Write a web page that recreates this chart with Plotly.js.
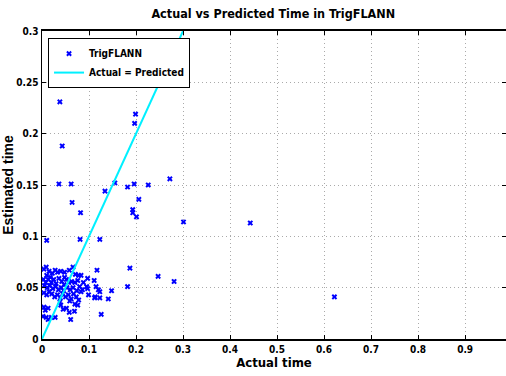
<!DOCTYPE html>
<html>
<head>
<meta charset="utf-8">
<script src="https://cdn.plot.ly/plotly-3.0.1.min.js"></script>
<style>html,body{margin:0;padding:0;background:#fff;}#chart{width:506px;height:376px;}</style>
</head>
<body>
<div id="chart"></div>
<script>
var actualTime = [
  0.004,0.009,0.015,0.022,0.028,0.033,0.040,0.048,0.058,0.066,0.071,0.078,0.010,0.018,
  0.003,0.008,0.013,0.020,0.025,0.030,0.036,0.042,0.047,0.052,0.057,0.063,0.048,0.070,0.076,0.083,
  0.005,0.011,0.017,0.023,0.029,0.035,0.041,0.046,0.053,0.060,0.066,0.074,0.080,0.086,
  0.004,0.010,0.015,0.021,0.027,0.033,0.039,0.044,0.050,0.056,0.062,0.067,0.073,0.083,0.078,
  0.004,0.007,0.013,0.002,0.009,0.020,0.028,0.013,0.040,0.038,0.045,0.052,0.058,0.061,0.069,0.070,0.059,0.076,
  0.097,0.111,0.117,0.095,0.097,0.115,0.120,0.148,0.123,0.099,0.113,0.123,0.141,0.126,0.112,0.088,
  0.038,0.043,0.199,0.197,0.036,0.062,0.064,0.082,0.010,0.081,0.123,0.134,0.155,0.182,0.196,
  0.206,0.193,0.193,0.201,0.226,0.272,0.301,0.443,0.622,0.187,0.247,0.281,0.182
];
var estimatedTime = [
  0.068,0.070,0.066,0.064,0.067,0.065,0.066,0.065,0.067,0.070,0.063,0.062,0.062,0.060,
  0.058,0.055,0.058,0.055,0.058,0.054,0.059,0.056,0.053,0.058,0.055,0.056,0.060,0.055,0.057,0.062,
  0.052,0.050,0.052,0.049,0.051,0.048,0.050,0.047,0.050,0.048,0.050,0.047,0.051,0.048,
  0.045,0.043,0.046,0.044,0.041,0.043,0.040,0.044,0.041,0.043,0.039,0.044,0.041,0.046,0.038,
  0.031,0.028,0.030,0.022,0.021,0.021,0.021,0.019,0.033,0.036,0.029,0.030,0.026,0.019,0.027,0.034,0.037,0.033,
  0.059,0.057,0.067,0.051,0.049,0.051,0.048,0.047,0.046,0.043,0.041,0.040,0.039,0.024,0.040,0.055,
  0.231,0.188,0.219,0.210,0.151,0.151,0.133,0.123,0.096,0.097,0.097,0.144,0.152,0.148,0.151,
  0.136,0.126,0.123,0.119,0.150,0.156,0.114,0.113,0.041,0.069,0.061,0.056,0.051
];
var idealLine = [0, 0.3];
var xTickValues = [0,0.1,0.2,0.3,0.4,0.5,0.6,0.7,0.8,0.9];
var xTickLabels = ['0','0.1','0.2','0.3','0.4','0.5','0.6','0.7','0.8','0.9'];
var yTickValues = [0,0.05,0.1,0.15,0.2,0.25,0.3];
var yTickLabels = ['0','0.05','0.1','0.15','0.2','0.25','0.3'];

var narrow = '"DejaVu Sans Condensed", "Liberation Sans Narrow", Arial, sans-serif';

var traces = [
  {x: actualTime, y: estimatedTime, type: 'scatter', mode: 'markers', name: 'TrigFLANN',
   marker: {symbol: 'x', size: 5, color: 'rgb(0,0,255)', line: {width: 0}}},
  {x: idealLine, y: idealLine, type: 'scatter', mode: 'lines', name: 'Actual = Predicted',
   line: {color: '#00f0ff', width: 2}}
];

var layout = {
  width: 506, height: 376,
  margin: {l: 42, r: 0, t: 31, b: 37},
  paper_bgcolor: '#fff', plot_bgcolor: '#fff',
  showlegend: true,
  title: {text: 'Actual vs Predicted Time in TrigFLANN', x: 0.54, xanchor: 'center', y: 0.965, yanchor: 'middle',
          font: {family: narrow, size: 12.5, weight: 'bold', color: '#000'}},
  xaxis: {range: [0, 0.987], tickvals: xTickValues, ticktext: xTickLabels,
          ticks: 'inside', ticklen: 4, tickcolor: '#000', showline: true, linecolor: '#000', linewidth: 2,
          mirror: 'ticks', showgrid: true, gridcolor: '#aaa', griddash: '1px,3px', gridwidth: 1, zeroline: false,
          tickfont: {family: narrow, size: 10, weight: 'bold', color: '#000'},
          title: {text: 'Actual time', standoff: 4, font: {family: narrow, size: 13, weight: 'bold', color: '#000'}}},
  yaxis: {range: [0, 0.3], tickvals: yTickValues, ticktext: yTickLabels,
          ticks: 'inside', ticklen: 4, tickcolor: '#000', showline: true, linecolor: '#000', linewidth: 1.5,
          mirror: 'ticks', showgrid: true, gridcolor: '#aaa', griddash: '1px,3px', gridwidth: 1, zeroline: false,
          tickfont: {family: narrow, size: 10, weight: 'bold', color: '#000'},
          title: {text: 'Estimated time', standoff: 0, font: {family: '"Liberation Sans", Arial, sans-serif', size: 14, weight: 'bold', color: '#000'}}},
  legend: {x: 0.013, y: 0.977, xanchor: 'left', yanchor: 'top', bgcolor: '#fff', bordercolor: '#000', borderwidth: 1,
           font: {family: narrow, size: 10, weight: 'bold', color: '#000'}, tracegroupgap: 0, itemwidth: 30}
};

Plotly.newPlot('chart', traces, layout, {displayModeBar: false, staticPlot: true});
</script>
</body>
</html>
